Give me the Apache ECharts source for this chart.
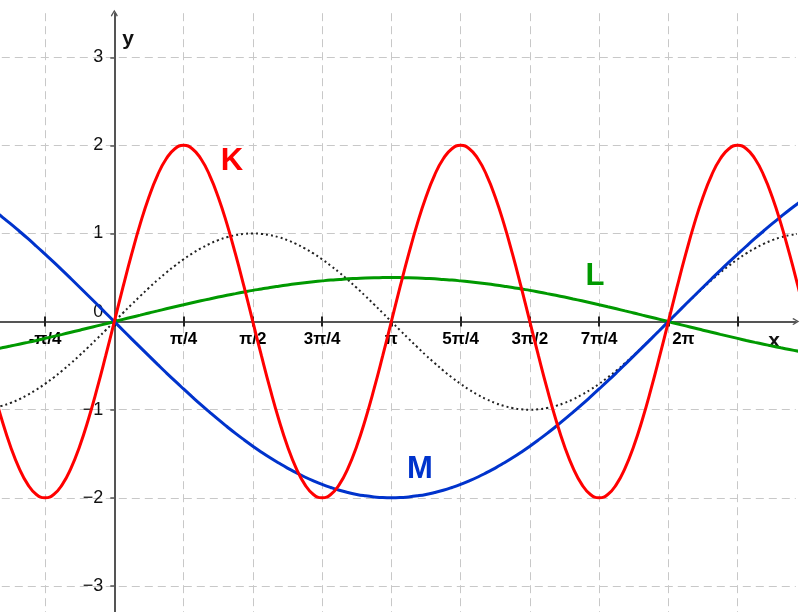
<!DOCTYPE html>
<html>
<head>
<meta charset="utf-8">
<script src="https://cdn.jsdelivr.net/npm/echarts@6/dist/echarts.min.js"></script>
<style>
  html, body { margin: 0; padding: 0; background: #fff; }
  #main { width: 806px; height: 612px; }
</style>
</head>
<body>
<div id="main"></div>
<script>
  // x is measured in steps of π/4, read every π/32
  const xs = [-2, -1.875, -1.75, -1.625, -1.5, -1.375, -1.25, -1.125,
    -1, -0.875, -0.75, -0.625, -0.5, -0.375, -0.25, -0.125,
    0, 0.125, 0.25, 0.375, 0.5, 0.625, 0.75, 0.875,
    1, 1.125, 1.25, 1.375, 1.5, 1.625, 1.75, 1.875,
    2, 2.125, 2.25, 2.375, 2.5, 2.625, 2.75, 2.875,
    3, 3.125, 3.25, 3.375, 3.5, 3.625, 3.75, 3.875,
    4, 4.125, 4.25, 4.375, 4.5, 4.625, 4.75, 4.875,
    5, 5.125, 5.25, 5.375, 5.5, 5.625, 5.75, 5.875,
    6, 6.125, 6.25, 6.375, 6.5, 6.625, 6.75, 6.875,
    7, 7.125, 7.25, 7.375, 7.5, 7.625, 7.75, 7.875,
    8, 8.125, 8.25, 8.375, 8.5, 8.625, 8.75, 8.875,
    9, 9.125, 9.25, 9.375, 9.5, 9.625, 9.75, 9.875, 10]

  // K (red)
  const kValues = [0, -0.39, -0.765, -1.111, -1.414, -1.663, -1.848, -1.962, -2, -1.962, -1.848, -1.663, -1.414, -1.111, -0.765, -0.39,
    0, 0.39, 0.765, 1.111, 1.414, 1.663, 1.848, 1.962, 2, 1.962, 1.848, 1.663, 1.414, 1.111, 0.765, 0.39,
    0, -0.39, -0.765, -1.111, -1.414, -1.663, -1.848, -1.962, -2, -1.962, -1.848, -1.663, -1.414, -1.111, -0.765, -0.39,
    0, 0.39, 0.765, 1.111, 1.414, 1.663, 1.848, 1.962, 2, 1.962, 1.848, 1.663, 1.414, 1.111, 0.765, 0.39,
    0, -0.39, -0.765, -1.111, -1.414, -1.663, -1.848, -1.962, -2, -1.962, -1.848, -1.663, -1.414, -1.111, -0.765, -0.39,
    0, 0.39, 0.765, 1.111, 1.414, 1.663, 1.848, 1.962, 2, 1.962, 1.848, 1.663, 1.414, 1.111, 0.765, 0.39,
    0]

  // dotted black curve
  const dotValues = [-1, -0.995, -0.981, -0.957, -0.924, -0.882, -0.831, -0.773, -0.707, -0.634, -0.556, -0.471, -0.383, -0.29, -0.195, -0.098,
    0, 0.098, 0.195, 0.29, 0.383, 0.471, 0.556, 0.634, 0.707, 0.773, 0.831, 0.882, 0.924, 0.957, 0.981, 0.995, 1,
    0.995, 0.981, 0.957, 0.924, 0.882, 0.831, 0.773, 0.707, 0.634, 0.556, 0.471, 0.383, 0.29, 0.195, 0.098, 0,
    -0.098, -0.195, -0.29, -0.383, -0.471, -0.556, -0.634, -0.707, -0.773, -0.831, -0.882, -0.924, -0.957, -0.981, -0.995, -1,
    -0.995, -0.981, -0.957, -0.924, -0.882, -0.831, -0.773, -0.707, -0.634, -0.556, -0.471, -0.383, -0.29, -0.195, -0.098, 0,
    0.098, 0.195, 0.29, 0.383, 0.471, 0.556, 0.634, 0.707, 0.773, 0.831, 0.882, 0.924, 0.957, 0.981, 0.995, 1]

  // L (green)
  const lValues = [-0.354, -0.336, -0.317, -0.298, -0.278, -0.257, -0.236, -0.214, -0.191, -0.168, -0.145, -0.121, -0.098, -0.073, -0.049, -0.025,
    0, 0.025, 0.049, 0.073, 0.098, 0.121, 0.145, 0.168, 0.191, 0.214, 0.236, 0.257, 0.278, 0.298, 0.317, 0.336,
    0.354, 0.37, 0.387, 0.402, 0.416, 0.429, 0.441, 0.452, 0.462, 0.471, 0.478, 0.485, 0.49, 0.495, 0.498, 0.499, 0.5,
    0.499, 0.498, 0.495, 0.49, 0.485, 0.478, 0.471, 0.462, 0.452, 0.441, 0.429, 0.416, 0.402, 0.387, 0.37, 0.354,
    0.336, 0.317, 0.298, 0.278, 0.257, 0.236, 0.214, 0.191, 0.168, 0.145, 0.121, 0.098, 0.073, 0.049, 0.025, 0,
    -0.025, -0.049, -0.073, -0.098, -0.121, -0.145, -0.168, -0.191, -0.214, -0.236, -0.257, -0.278, -0.298, -0.317, -0.336, -0.354]

  // M (blue)
  const mValues = [1.414, 1.343, 1.269, 1.191, 1.111, 1.028, 0.943, 0.855, 0.765, 0.674, 0.581, 0.486, 0.39, 0.293, 0.196, 0.098,
    0, -0.098, -0.196, -0.293, -0.39, -0.486, -0.581, -0.674, -0.765, -0.855, -0.943, -1.028, -1.111, -1.191, -1.269, -1.343,
    -1.414, -1.482, -1.546, -1.606, -1.663, -1.715, -1.764, -1.808, -1.848, -1.883, -1.914, -1.94, -1.962, -1.978, -1.99, -1.998, -2,
    -1.998, -1.99, -1.978, -1.962, -1.94, -1.914, -1.883, -1.848, -1.808, -1.764, -1.715, -1.663, -1.606, -1.546, -1.482, -1.414,
    -1.343, -1.269, -1.191, -1.111, -1.028, -0.943, -0.855, -0.765, -0.674, -0.581, -0.486, -0.39, -0.293, -0.196, -0.098, 0,
    0.098, 0.196, 0.293, 0.39, 0.486, 0.581, 0.674, 0.765, 0.855, 0.943, 1.028, 1.111, 1.191, 1.269, 1.343, 1.414]

  // ticks and their labels
  const xTickValues = [-1, 0, 1, 2, 3, 4, 5, 6, 7, 8, 9]
  const xTickLabels = ['-π/4', '', 'π/4', 'π/2', '3π/4', 'π', '5π/4', '3π/2', '7π/4', '2π', '']
  const yTickValues = [-3, -2, -1, 0, 1, 2, 3]
  const yTickLabels = ['\u22123', '\u22122', '\u22121', '0', '1', '2', '3']

  const font = "'Liberation Sans', Arial, sans-serif"
  const axisColor = '#555'
  const gridLine = { color: '#c8c8c8', width: 1, type: [8, 5] }
  // open arrow head, pointing up
  const arrow = 'path://M0,8.4 L5,0 L10,8.4 L8.7,10 L5,3.4 L1.3,10 Z'

  // grid spans x -2..9.84 and y -4..3.5; axes are shifted onto the origin
  const gridLeft = -24.2
  const gridRight = 10.2
  const gridTop = 13.2
  const gridBottom = -62
  const xMin = -2, xMax = 9.84, yMin = -4, yMax = 3.5
  const unitX = (806 - gridLeft - gridRight) / (xMax - xMin)
  const unitY = (612 - gridTop - gridBottom) / (yMax - yMin)
  const originX = gridLeft - xMin * unitX
  const originY = gridTop + yMax * unitY

  const pts = vals => xs.map((x, i) => [x, vals[i]])
  const xTick = { length: 5, customValues: xTickValues, lineStyle: { color: '#222', width: 2 } }

  const chart = echarts.init(document.getElementById('main'))

  chart.setOption({
    animation: false,
    grid: {
      left: gridLeft, right: gridRight, top: gridTop, bottom: gridBottom,
      containLabel: false,
      outerBoundsMode: 'none'
    },
    xAxis: [{
      type: 'value',
      position: 'bottom',
      offset: -(612 - gridBottom - originY),
      min: xMin,
      max: xMax,
      interval: 1,
      axisLine: {
        onZero: false,
        symbol: ['none', arrow],
        symbolSize: [12, 7],
        lineStyle: { color: axisColor, width: 2 }
      },
      axisTick: xTick,
      axisLabel: {
        margin: 9,
        fontFamily: font,
        fontSize: 17,
        fontWeight: 'bold',
        color: '#000',
        formatter: v => {
          const s = xTickLabels[xTickValues.indexOf(v)] || ''
          return s === '2π' ? '{s|' + s + '}' : s
        },
        rich: {
          s: { padding: [0, 0, 0, 30], fontFamily: font, fontSize: 17, fontWeight: 'bold', color: '#000' }
        }
      },
      splitLine: { show: true, lineStyle: gridLine }
    }, {
      type: 'value',
      position: 'top',
      offset: -(originY - gridTop),
      min: xMin,
      max: xMax,
      interval: 1,
      axisLine: { show: false, onZero: false },
      axisTick: xTick,
      axisLabel: { show: false },
      splitLine: { show: false }
    }],
    yAxis: {
      type: 'value',
      position: 'left',
      offset: -(originX - gridLeft),
      min: yMin,
      max: yMax,
      interval: 1,
      axisLine: {
        onZero: false,
        symbol: ['none', arrow],
        symbolSize: [13, 7],
        lineStyle: { color: axisColor, width: 2 }
      },
      axisTick: { length: 4, customValues: yTickValues, lineStyle: { color: axisColor, width: 1.5 } },
      axisLabel: {
        margin: 11,
        fontFamily: font,
        fontSize: 18,
        color: '#111',
        formatter: v => {
          const s = yTickLabels[yTickValues.indexOf(v)] || ''
          return v === 0 ? '{o|' + s + '}' : s
        },
        rich: {
          o: { padding: [0, 0, 20, 0], fontFamily: font, fontSize: 18, color: '#111' }
        }
      },
      splitLine: { show: true, lineStyle: gridLine }
    },
    series: [{
      name: 'dotted',
      type: 'line',
      data: pts(dotValues),
      smooth: true,
      showSymbol: false,
      clip: false,
      lineStyle: { color: '#222', width: 2, type: [2, 3] }
    }, {
      name: 'L',
      type: 'line',
      data: pts(lValues),
      smooth: true,
      showSymbol: false,
      clip: false,
      lineStyle: { color: '#009900', width: 3 }
    }, {
      name: 'M',
      type: 'line',
      data: pts(mValues),
      smooth: true,
      showSymbol: false,
      clip: false,
      lineStyle: { color: '#0033cc', width: 3 }
    }, {
      name: 'K',
      type: 'line',
      data: pts(kValues),
      smooth: true,
      showSymbol: false,
      clip: false,
      lineStyle: { color: '#ff0000', width: 3 }
    }],
    graphic: [
      { type: 'text', x: 232, y: 161, style: { text: 'K', fill: '#ff0000', font: 'bold 31px ' + font, align: 'center', verticalAlign: 'middle' } },
      { type: 'text', x: 595, y: 276, style: { text: 'L', fill: '#009900', font: 'bold 31px ' + font, align: 'center', verticalAlign: 'middle' } },
      { type: 'text', x: 420, y: 469, style: { text: 'M', fill: '#0033cc', font: 'bold 31px ' + font, align: 'center', verticalAlign: 'middle' } },
      { type: 'text', x: 774, y: 341, style: { text: 'x', fill: '#111', font: 'bold 21px ' + font, align: 'center', verticalAlign: 'middle' } },
      { type: 'text', x: 128, y: 39, style: { text: 'y', fill: '#111', font: 'bold 21px ' + font, align: 'center', verticalAlign: 'middle' } }
    ]
  })
</script>
</body>
</html>
